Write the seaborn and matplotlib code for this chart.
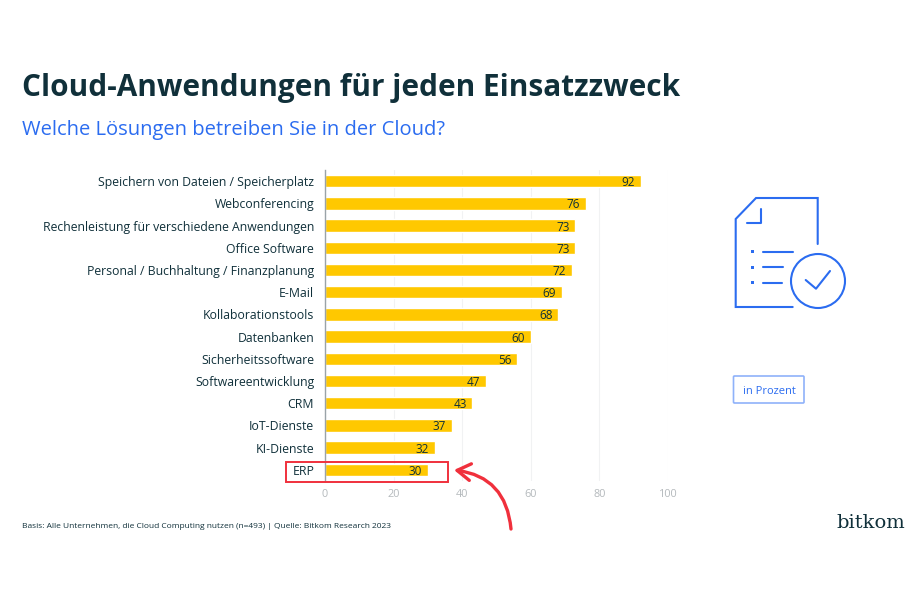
import pandas as pd
import matplotlib
matplotlib.use("Agg")
import matplotlib.pyplot as plt
import seaborn as sns
from matplotlib.patches import Circle, FancyBboxPatch, Rectangle

categories = [
    "Speichern von Dateien / Speicherplatz", "Webconferencing",
    "Rechenleistung für verschiedene Anwendungen", "Office Software",
    "Personal / Buchhaltung / Finanzplanung", "E-Mail", "Kollaborationstools",
    "Datenbanken", "Sicherheitssoftware", "Softwareentwicklung", "CRM",
    "IoT-Dienste", "KI-Dienste", "ERP",
]
values = [92, 76, 73, 73, 72, 69, 68, 60, 56, 47, 43, 37, 32, 30]
x_ticks = [0, 20, 40, 60, 80, 100]

DARK = "#10303a"
BLUE = "#2b6cf0"
YELLOW = "#ffc800"
RED = "#f0303c"

sns.set_theme(style="white")
plt.rcParams["font.family"] = ["Open Sans", "DejaVu Sans"]

W, H = 920, 600
fig = plt.figure(figsize=(9.2, 6), dpi=100, facecolor="white")

# chart axes, placed in pixels
ax = fig.add_axes([325 / W, 1 - 481 / H, 343 / W, 311 / H])
df = pd.DataFrame({"category": categories, "value": values})
sns.barplot(data=df, x="value", y="category", color=YELLOW, saturation=1,
            width=0.56, ax=ax, zorder=3)
ax.set_xlim(0, 100)
ax.set_ylim(13.5, -0.5)
ax.set_xlabel("")
ax.set_ylabel("")
ax.set_xticks(x_ticks)
ax.tick_params(axis="x", length=0, labelsize=7.8, labelcolor="#b4b9bc", pad=6)
ax.tick_params(axis="y", length=0, labelsize=8.8, labelcolor=DARK, pad=7.8)
ax.xaxis.grid(True, color="#f1f2f3", linewidth=0.8)
ax.set_axisbelow(True)
for name in ["top", "right", "bottom"]:
    ax.spines[name].set_visible(False)
ax.spines["left"].set_color("#9aa3a8")
ax.spines["left"].set_linewidth(1)
ax.spines["left"].set_zorder(5)
labels = ax.bar_label(ax.containers[0], fmt="%d", padding=-13.7, fontsize=8.5, color=DARK)
for t in labels:
    t.set_verticalalignment("center_baseline")

# overlay in pixel coordinates for titles, icon and callout
ov = fig.add_axes([0, 0, 1, 1], facecolor="none")
ov.set_xlim(0, W)
ov.set_ylim(H, 0)
ov.axis("off")

ov.text(22, 88, "Cloud-Anwendungen für jeden Einsatzzweck", fontsize=21.4,
        fontweight="bold", color=DARK, va="center", ha="left")
ov.text(22, 130, "Welche Lösungen betreiben Sie in der Cloud?", fontsize=14.5,
        color=BLUE, va="center", ha="left")
ov.text(22, 527, "Basis: Alle Unternehmen, die Cloud Computing nutzen (n=493) | Quelle: Bitkom Research 2023",
        fontsize=6, color=DARK, va="center", ha="left")
ov.text(905, 523, "bitkom", fontsize=14, family="DejaVu Serif", color=DARK,
        va="center", ha="right")

# document icon
lw = 1.5
ov.plot([817.7, 817.7, 756, 735.7, 735.7, 792.7], [244, 198, 198, 219, 307, 307],
        color=BLUE, lw=lw, solid_joinstyle="miter")
ov.plot([760.7, 760.7, 746.7], [209, 223, 223], color=BLUE, lw=lw)
for y, x_end in [(251.7, 792.7), (267.3, 783.3), (282.7, 781.7)]:
    ov.plot([763.3, x_end], [y, y], color=BLUE, lw=lw)
    ov.add_patch(Rectangle((751.2, y - 1.5), 3, 3, color=BLUE, lw=0))
ov.add_patch(Circle((818, 281), 27, fill=False, edgecolor=BLUE, lw=lw))
ov.plot([805.7, 816, 830], [280, 288.7, 271], color=BLUE, lw=lw)

# unit badge
ov.add_patch(FancyBboxPatch((733.5, 376), 70.5, 27, boxstyle="round,pad=0,rounding_size=1",
                            fill=False, edgecolor="#8fb2fa", lw=1.2))
ov.text(769, 391, "in Prozent", fontsize=8, color=BLUE, va="center", ha="center")

# red callout
ov.add_patch(Rectangle((286, 461.7), 161.7, 20.6, fill=False, edgecolor=RED, lw=1.4))
ov.annotate("", xy=(454, 470), xytext=(511, 529),
            arrowprops=dict(arrowstyle="->,head_length=0.8,head_width=0.5", color=RED,
                            lw=2.4, connectionstyle="arc3,rad=0.4", shrinkA=0, shrinkB=0))

fig.savefig("out.png", dpi=100)
plt.close(fig)
